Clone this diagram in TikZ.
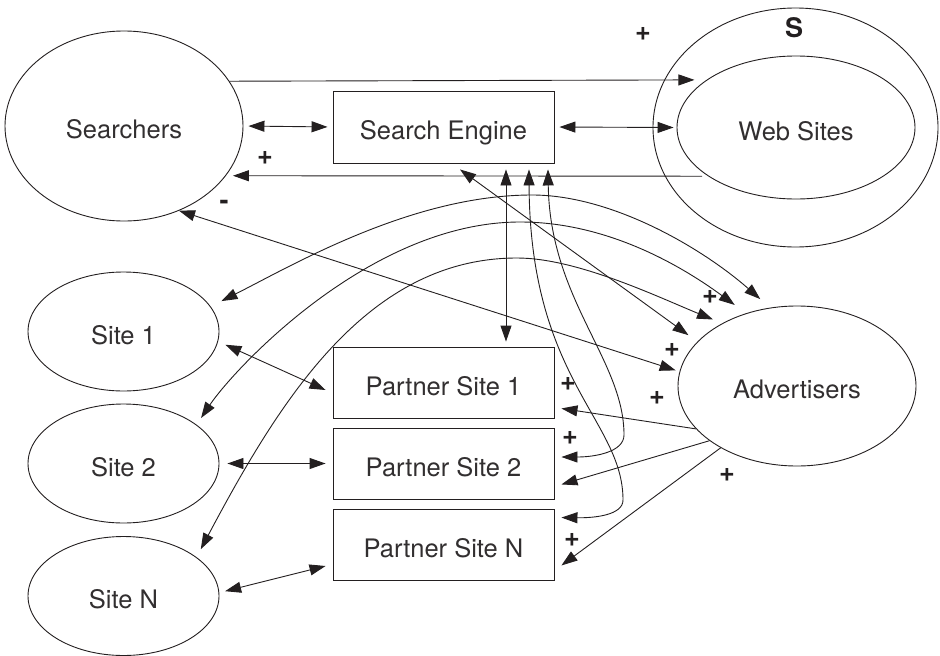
\documentclass[tikz,border=0pt]{standalone}
\usepackage{fontspec}
\setmainfont{TeX Gyre Heros}
\usetikzlibrary{shapes.geometric,arrows.meta}
\definecolor{ink}{RGB}{35,31,32}
\definecolor{label}{RGB}{50,47,48}
\begin{document}
\begin{tikzpicture}[x=1pt,y=-1pt,
  every node/.style={font=\fontsize{25.5}{30}\selectfont, text=label},
  oval/.style={draw=ink, ellipse, line width=0.9pt, inner sep=0pt, text height=25pt, text depth=0pt},
  box/.style={draw=ink, rectangle, line width=0.9pt, minimum width=221pt, minimum height=71pt, text height=25pt, text depth=0pt},
  con/.style={draw=ink, line width=0.9pt},
  one/.style={con, -{Triangle[length=16pt,width=11pt]}},
  two/.style={con, {Triangle[length=16pt,width=11pt]}-{Triangle[length=16pt,width=11pt]}},
  sign/.style={font=\bfseries\fontsize{27}{30}\selectfont, text=ink, inner sep=0pt}
]
\useasboundingbox (0,0) rectangle (940,656);

% actors
\node[oval, minimum width=238pt, minimum height=190pt] (searchers) at (124,126) {Searchers};
\node[oval, minimum width=285pt, minimum height=239pt] (sring) at (795.5,127.5) {};
\node[oval, minimum width=238pt, minimum height=143pt] (websites) at (796,127.5) {Web Sites};
\node[box, minimum height=72pt] (engine) at (443.5,127) {Search Engine};
\node[oval, minimum width=238pt, minimum height=160pt] (adv) at (797,386) {Advertisers};
\node[oval, minimum width=191pt, minimum height=119pt] (site1) at (123.5,331.5) {Site 1};
\node[oval, minimum width=191pt, minimum height=119pt] (site2) at (123.5,463.5) {Site 2};
\node[oval, minimum width=191pt, minimum height=119pt] (siten) at (123.5,596) {Site N};
\node[box] (ps1) at (443.5,382.5) {Partner Site 1};
\node[box] (ps2) at (443.5,463.5) {Partner Site 2};
\node[box] (psn) at (443.5,544.5) {Partner Site N};

% signs
\node[sign] (lblS) at (794,28) {S};
\node[sign] (sg1) at (643,34) {+};
\node[sign] (sg2) at (265,158) {+};
\node[sign] (sg3) at (224,205) {-};
\node[sign] (sg4) at (710,297) {+};
\node[sign] (sg5) at (672,350) {+};
\node[sign] (sg6) at (657,398) {+};
\node[sign] (sg7) at (568,384) {+};
\node[sign] (sg8) at (570,438) {+};
\node[sign] (sg9) at (572,540) {+};
\node[sign] (sg10) at (727,475) {+};

% searchers and web sites
\draw[one] (searchers.23) -- ([xshift=-12pt]websites.152);
\draw[two, shorten <=5pt, shorten >=5pt] (searchers.east) -- (engine.west);
\draw[two, shorten <=5pt, shorten >=3pt] (engine.east) -- (websites.west);
\draw[one] ([xshift=-6pt]websites.209) -- ([xshift=7pt]searchers.-26);
\draw[two, shorten >=4pt] (searchers.-57) -- (adv.173);

% search engine links
\draw[two, shorten >=11pt] ([xshift=16.5pt,yshift=-6pt]engine.south) -- (adv.156);
\draw[two, shorten <=6pt, shorten >=5pt] ([xshift=62.5pt]engine.south) -- ([xshift=62.5pt]ps1.north);
\draw[two] ([xshift=85.5pt,yshift=-6pt]engine.south)
  .. controls (530,380) and (623,420) .. (623,500)
  .. controls (623,515) and (595,518) .. ([xshift=7pt,yshift=-9pt]psn.north east);
\draw[two] ([xshift=104.5pt,yshift=-6pt]engine.south)
  .. controls (550,300) and (624,360) .. (624,435)
  .. controls (624,452) and (595,457) .. ([xshift=7pt,yshift=6.5pt]ps2.east);

% advertisers to partner sites
\draw[one] (adv.203) -- ([xshift=7pt,yshift=10pt]ps1.south east);
\draw[one] (adv.212) -- ([xshift=7pt,yshift=15pt]ps2.south east);
\draw[one] (adv.219) -- ([xshift=7pt,yshift=15pt]psn.south east);

% sites and partner sites
\draw[two, shorten <=8pt] (site1.-6) -- ([xshift=-7pt,yshift=-7.5pt]ps1.west);
\draw[two, shorten <=8pt, shorten >=7pt] (site2.east) -- (ps2.west);
\draw[two, shorten <=6pt] (siten.2) -- ([xshift=-7pt,yshift=-21.5pt]psn.west);

% arcs between sites and advertisers
\draw[two, shorten <=12pt, shorten >=13pt] (site1.16)
  .. controls (293,265) and (412,195) .. (532,195)
  .. controls (612,195) and (702,248) .. (adv.109);
\draw[two, shorten <=8pt, shorten >=14pt] (site2.28)
  .. controls (234,369) and (370,222) .. (520,222)
  .. controls (600,222) and (672,259) .. (adv.125);
\draw[two, shorten <=9pt, shorten >=10pt] (siten.28)
  .. controls (280,400) and (367,258) .. (517,258)
  .. controls (577,258) and (658,297) .. (adv.140);
\end{tikzpicture}
\end{document}
